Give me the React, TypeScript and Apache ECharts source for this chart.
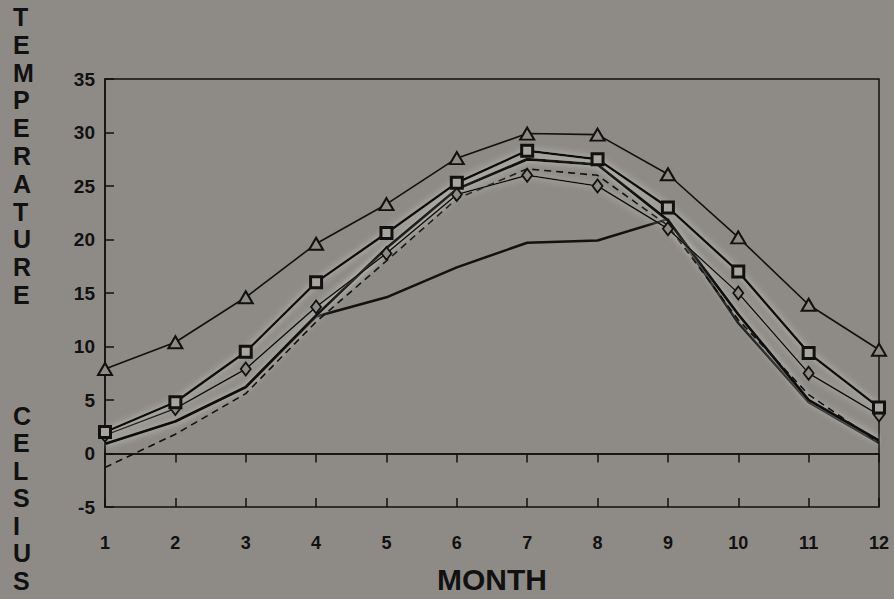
import React, { useEffect, useRef } from "react";
import * as echarts from "echarts";

const months = [1, 2, 3, 4, 5, 6, 7, 8, 9, 10, 11, 12];
const triangleSeries = [7.9, 10.4, 14.6, 19.6, 23.3, 27.6, 29.9, 29.8, 26.1, 20.2, 13.9, 9.7];
const squareSeries = [2.0, 4.8, 9.5, 16.0, 20.6, 25.3, 28.3, 27.5, 23.0, 17.0, 9.4, 4.3];
const diamondSeries = [1.7, 4.2, 7.9, 13.7, 18.7, 24.2, 26.0, 25.0, 21.0, 15.0, 7.5, 3.6];
const dashedSeries = [-1.3, 1.8, 5.6, 12.3, 18.0, 23.8, 26.6, 26.0, 21.3, 12.5, 5.5, 1.0];
const thickSeries = [0.9, 3.0, 6.2, 12.9, 19.2, 24.7, 27.5, 27.0, 21.8, 13.0, 5.0, 1.2];
const flatSeries = [0.9, 3.0, 6.2, 12.8, 14.6, 17.4, 19.7, 19.9, 21.9, 12.2, 4.8, 1.0];
const yMin = -5;
const yMax = 35;
const yStep = 5;

const BG = "#8e8b86";
const INK = "#111111";
const FONT = "'Liberation Sans', Arial, sans-serif";

function pairs(vals: number[]) {
  return months.map((m, i) => [m, vals[i]]);
}

export default function App() {
  const ref = useRef<HTMLDivElement>(null);
  useEffect(() => {
    if (!ref.current) return;
    const chart = echarts.init(ref.current, null, { renderer: "svg" });
    const halo = { shadowBlur: 7, shadowColor: "rgba(235,235,228,0.75)" };
    const option: any = {
      animation: false,
      backgroundColor: BG,
      grid: {
        left: 105,
        right: 15,
        top: 79,
        bottom: 87,
        show: true,
        borderColor: INK,
        borderWidth: 1.5,
        backgroundColor: "transparent",
      },
      xAxis: [
        {
          type: "value",
          min: 1,
          max: 12,
          interval: 1,
          position: "bottom",
          axisLine: { show: true, lineStyle: { color: INK, width: 1.5 } },
          axisTick: { show: true, inside: false, length: 9, lineStyle: { color: INK, width: 1.5 } },
          axisLabel: { color: INK, fontSize: 18, fontWeight: "bold", fontFamily: FONT, margin: 27 },
          splitLine: { show: false },
          name: "MONTH",
          nameLocation: "middle",
          nameGap: 57,
          nameTextStyle: { color: INK, fontSize: 30, fontWeight: "bold", fontFamily: FONT },
        },
        {
          type: "value",
          min: 1,
          max: 12,
          interval: 1,
          position: "bottom",
          axisLine: { show: false },
          axisTick: { show: true, inside: true, length: 9, lineStyle: { color: INK, width: 1.5 } },
          axisLabel: { show: false },
          splitLine: { show: false },
        },
      ],
      yAxis: {
        type: "value",
        min: yMin,
        max: yMax,
        interval: yStep,
        axisLine: { show: true, lineStyle: { color: INK, width: 1.5 } },
        axisTick: { show: true, inside: true, length: 9, lineStyle: { color: INK, width: 1.5 } },
        axisLabel: { color: INK, fontSize: 19, fontWeight: "bold", fontFamily: FONT, margin: 10 },
        splitLine: { show: false },
      },
      graphic: [
        {
          type: "text",
          left: 13,
          top: 3,
          style: {
            text: "TEMPERATURE".split("").join("\n"),
            fill: INK,
            font: `bold 25px ${FONT}`,
            lineHeight: 27.8,
            align: "center",
          },
        },
        {
          type: "text",
          left: 13,
          top: 402,
          style: {
            text: "CELSIUS".split("").join("\n"),
            fill: INK,
            font: `bold 25px ${FONT}`,
            lineHeight: 27.5,
            align: "center",
          },
        },
      ],
      series: [
        {
          name: "flat",
          type: "line",
          data: pairs(flatSeries),
          symbol: "none",
          lineStyle: { color: INK, width: 2.5 },
          z: 2,
          markLine: {
            silent: true,
            symbol: "none",
            label: { show: false },
            lineStyle: { color: INK, width: 1.5, type: "solid" },
            data: [{ yAxis: 0 }],
          },
        },
        {
          name: "thick",
          type: "line",
          data: pairs(thickSeries),
          symbol: "none",
          lineStyle: { color: INK, width: 3, ...halo },
          z: 3,
        },
        {
          name: "dashed",
          type: "line",
          data: pairs(dashedSeries),
          symbol: "none",
          lineStyle: { color: INK, width: 1.6, type: [7, 5] },
          z: 3,
        },
        {
          name: "diamond",
          type: "line",
          data: pairs(diamondSeries),
          symbol: "diamond",
          symbolSize: [10, 13],
          itemStyle: { color: BG, borderColor: INK, borderWidth: 1.8 },
          lineStyle: { color: INK, width: 1.6, ...halo },
          z: 4,
        },
        {
          name: "square",
          type: "line",
          data: pairs(squareSeries),
          symbol: "rect",
          symbolSize: 11,
          itemStyle: { color: "#a9a69f", borderColor: INK, borderWidth: 3 },
          lineStyle: { color: INK, width: 2.6, ...halo },
          z: 5,
        },
        {
          name: "triangle",
          type: "line",
          data: pairs(triangleSeries),
          symbol: "triangle",
          symbolSize: [14, 12],
          itemStyle: { color: BG, borderColor: INK, borderWidth: 2 },
          lineStyle: { color: INK, width: 1.6 },
          z: 6,
        },
      ],
    };
    chart.setOption(option);
    return () => chart.dispose();
  }, []);
  return (
    <div
      ref={ref}
      style={{ position: "absolute", left: 0, top: 0, width: 894, height: 599, background: BG }}
    />
  );
}
